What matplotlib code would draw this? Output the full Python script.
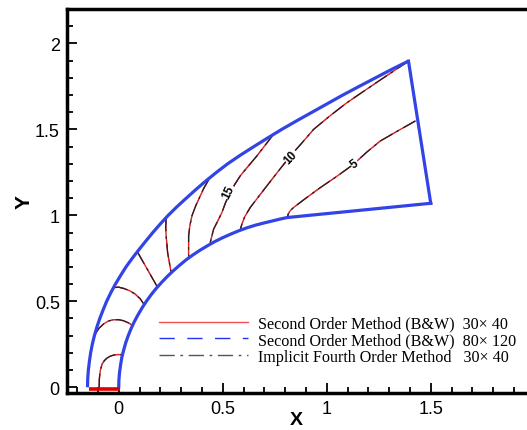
import matplotlib
matplotlib.use("Agg")
import matplotlib.pyplot as plt
from matplotlib.lines import Line2D
from matplotlib.ticker import MultipleLocator

# Domain boundaries
outer_x = [-0.15, -0.149, -0.146, -0.141, -0.135, -0.127, -0.117, -0.105, -0.091, -0.075,
           -0.058, -0.038, -0.016, 0.009, 0.035, 0.065, 0.097, 0.130, 0.164, 0.200,
           0.238, 0.280, 0.325, 0.371, 0.419, 0.470, 0.524, 0.585, 0.650, 0.716,
           0.784, 0.856, 0.930, 1.004, 1.078, 1.156, 1.235, 1.314, 1.393]
outer_y = [0.0, 0.05, 0.1, 0.15, 0.2, 0.25, 0.3, 0.35, 0.4, 0.45,
           0.5, 0.55, 0.6, 0.65, 0.7, 0.75, 0.8, 0.85, 0.9, 0.95,
           1.0, 1.05, 1.1, 1.15, 1.2, 1.25, 1.3, 1.35, 1.4, 1.45,
           1.5, 1.55, 1.6, 1.65, 1.7, 1.75, 1.8, 1.85, 1.897]
right_x = [1.393, 1.5]
right_y = [1.897, 1.07]
inner_x = [1.5, 0.809, 0.775, 0.741, 0.700, 0.658, 0.618, 0.577, 0.539, 0.500,
           0.463, 0.428, 0.392, 0.357, 0.324, 0.293, 0.263, 0.234, 0.207, 0.181,
           0.157, 0.134, 0.113, 0.094, 0.076, 0.060, 0.046, 0.034, 0.024, 0.015,
           0.009, 0.004, 0.001, 0.0]
inner_y = [1.07, 0.987, 0.978, 0.968, 0.956, 0.943, 0.928, 0.910, 0.891, 0.870,
           0.848, 0.824, 0.798, 0.770, 0.741, 0.710, 0.678, 0.645, 0.611, 0.576,
           0.540, 0.502, 0.463, 0.424, 0.384, 0.343, 0.301, 0.260, 0.217, 0.174,
           0.130, 0.087, 0.044, 0.0]
bottom_x = [-0.145, 0.007]
bottom_y = [-0.012, -0.012]

# Contour lines (same for the three methods at this scale)
c1_x = [-0.094, -0.093, -0.089, -0.08, -0.069, -0.057, -0.042, -0.025, -0.008, 0.01]
c1_y = [0.0, 0.05, 0.095, 0.135, 0.155, 0.169, 0.18, 0.187, 0.19, 0.19]
c2_x = [-0.113, -0.095, -0.073, -0.05, -0.025, 0.0, 0.023, 0.048, 0.068]
c2_y = [0.31, 0.343, 0.368, 0.385, 0.393, 0.393, 0.387, 0.374, 0.358]
c3_x = [-0.022, 0.0, 0.023, 0.052, 0.079, 0.103, 0.123]
c3_y = [0.58, 0.582, 0.575, 0.562, 0.542, 0.515, 0.48]
c4_x = [0.09, 0.187]
c4_y = [0.787, 0.581]
c5_x = [0.228, 0.226, 0.228, 0.235, 0.251]
c5_y = [0.987, 0.935, 0.88, 0.784, 0.674]
c6_x = [0.432, 0.41, 0.392, 0.37, 0.352, 0.342, 0.336, 0.336]
c6_y = [1.206, 1.16, 1.113, 1.055, 0.997, 0.94, 0.88, 0.755]
c7_x = [0.744, 0.704, 0.664, 0.622, 0.584, 0.558, 0.536, 0.514, 0.496, 0.476, 0.456, 0.44]
c7_y = [1.471, 1.408, 1.345, 1.285, 1.229, 1.18, 1.132, 1.075, 1.016, 0.967, 0.919, 0.842]
c8_x = [1.393, 1.245, 1.097, 1.015, 0.937, 0.88, 0.825, 0.768, 0.712, 0.67, 0.632, 0.605, 0.592, 0.584]
c8_y = [1.897, 1.777, 1.655, 1.578, 1.5, 1.42, 1.345, 1.258, 1.171, 1.105, 1.045, 0.99, 0.948, 0.915]
c9_x = [1.425, 1.34, 1.257, 1.19, 1.129, 1.05, 0.969, 0.9, 0.84, 0.823, 0.814, 0.812]
c9_y = [1.548, 1.49, 1.432, 1.365, 1.297, 1.228, 1.161, 1.1, 1.045, 1.025, 1.005, 0.987]

contours_x = [c1_x, c2_x, c3_x, c4_x, c5_x, c6_x, c7_x, c8_x, c9_x]
contours_y = [c1_y, c2_y, c3_y, c4_y, c5_y, c6_y, c7_y, c8_y, c9_y]

# Contour labels
label_text = ["15", "10", "5"]
label_x = [0.528, 0.828, 1.132]
label_y = [1.136, 1.341, 1.303]
label_rot = [64, 47, 37]

legend_labels = ["Second Order Method (B&W)  30\u00d7 40",
                 "Second Order Method (B&W)  80\u00d7 120",
                 "Implicit Fourth Order Method   30\u00d7 40"]

fig = plt.figure(figsize=(5.27, 4.31), dpi=100)
ax = fig.add_axes([0.1266, 0.0852, 0.8723, 0.8916])

red = "#e8201e"
blue = "#2233ee"
dark = "#222222"

for cx, cy in zip(contours_x, contours_y):
    ax.plot(cx, cy, color=blue, lw=0.7, dashes=(11, 9), zorder=2)
    ax.plot(cx, cy, color=red, lw=1.0, zorder=2)
    ax.plot(cx, cy, color=dark, lw=0.9, dashes=(11, 4, 2, 4), zorder=2)

for t, lx, ly, r in zip(label_text, label_x, label_y, label_rot):
    ax.text(lx, ly, t, rotation=r, ha="center", va="center", fontsize=8.5,
            fontweight="bold", family="Liberation Sans", zorder=3,
            bbox=dict(boxstyle="square,pad=0.05", fc="white", ec="none"))

bcol = "#3344e6"
ax.plot(outer_x, outer_y, color=bcol, lw=2.3, zorder=4, solid_capstyle="butt")
ax.plot(right_x, right_y, color=bcol, lw=2.3, zorder=4)
ax.plot(inner_x, inner_y, color=bcol, lw=2.3, zorder=4, solid_joinstyle="round")
ax.plot(bottom_x, bottom_y, color="#dd0000", lw=2.6, zorder=5, solid_capstyle="butt")

ax.set_xlim(-0.25, 1.96)
ax.set_ylim(-0.035, 2.2)

ax.xaxis.set_major_locator(MultipleLocator(0.5))
ax.xaxis.set_minor_locator(MultipleLocator(0.1))
ax.yaxis.set_major_locator(MultipleLocator(0.5))
ax.yaxis.set_minor_locator(MultipleLocator(0.1))
ax.xaxis.set_major_formatter(plt.FuncFormatter(lambda v, p: f"{v:g}"))
ax.yaxis.set_major_formatter(plt.FuncFormatter(lambda v, p: f"{v:g}"))
ax.tick_params(which="both", direction="in", top=False, right=False, width=1.3,
               labelsize=13, pad=5)
ax.tick_params(which="major", length=7)
ax.tick_params(which="minor", length=4)
for lab in ax.get_xticklabels() + ax.get_yticklabels():
    lab.set_family("Liberation Sans")

for side in ["left", "bottom", "top"]:
    ax.spines[side].set_linewidth(2.5)
ax.spines["right"].set_visible(False)

ax.set_xlabel("X", fontsize=14, fontweight="bold", family="Liberation Sans", va="baseline")
ax.xaxis.set_label_coords(0.5, -0.081)
ax.set_ylabel("Y", fontsize=15, fontweight="bold", family="Liberation Sans", labelpad=1)

handles = [Line2D([], [], color="#f05050", lw=1.0),
           Line2D([], [], color=blue, lw=1.0, dashes=(11, 9)),
           Line2D([], [], color="#555555", lw=1.0, dashes=(11, 4, 2, 4))]
ax.legend(handles, legend_labels, loc="upper left", bbox_to_anchor=(0.17, 0.241),
          frameon=False, handlelength=5.5, handletextpad=0.65, labelspacing=0.05,
          prop={"family": "Liberation Serif", "size": 11.6})

fig.savefig("out.png", dpi=100)
